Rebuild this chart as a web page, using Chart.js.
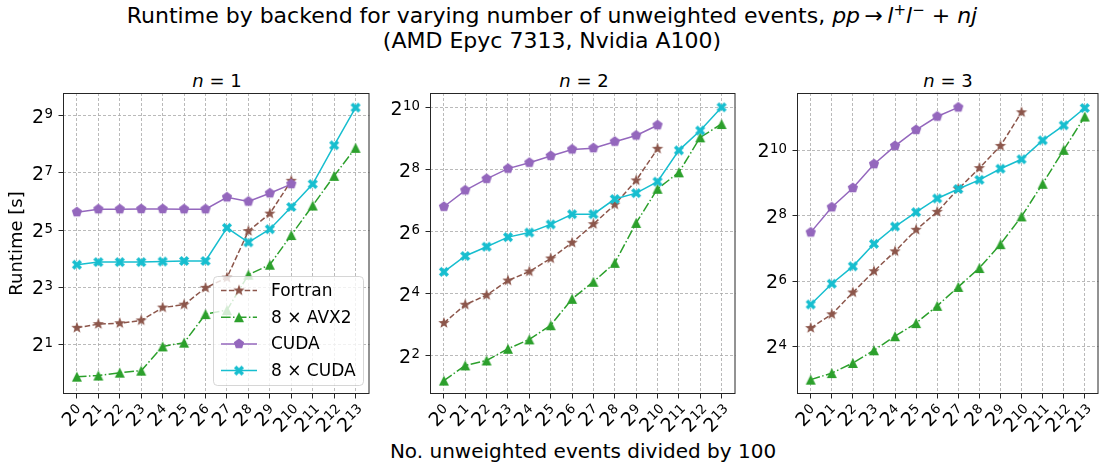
<!DOCTYPE html>
<html>
<head>
<meta charset="utf-8">
<script src="https://cdn.jsdelivr.net/npm/chart.js@4.4.0/dist/chart.umd.min.js"></script>
<style>
body { margin: 0; background: #fff; font-family: 'DejaVu Sans'; }
#wrap { position: relative; width: 1105px; height: 468px; overflow: hidden; }
canvas { position: absolute; top: 80px; }
.txt { position: absolute; white-space: nowrap; color: #000; line-height: 1; transform: translateX(-50%); }
</style>
</head>
<body>
<div id="wrap">
  <div class="txt" style="left:552px; top:3px; font-size:22px;">Runtime by backend for varying number of unweighted events, <i>pp</i>&thinsp;&rarr;&thinsp;<i>l</i><sup style="font-size:15px">+</sup><i>l</i><sup style="font-size:15px">&minus;</sup> + <i>nj</i></div>
  <div class="txt" style="left:552px; top:30px; font-size:22px;">(AMD Epyc 7313, Nvidia A100)</div>
  <div class="txt" style="left:217px; top:72px; font-size:18px;"><i>n</i> = 1</div>
  <div class="txt" style="left:584px; top:72px; font-size:18px;"><i>n</i> = 2</div>
  <div class="txt" style="left:948px; top:72px; font-size:18px;"><i>n</i> = 3</div>
  <div class="txt" style="left:583px; top:441px; font-size:20px;">No. unweighted events divided by 100</div>
  <canvas id="chart-n1" width="376" height="360" style="left:0px"></canvas>
  <canvas id="chart-n2" width="366" height="360" style="left:376px"></canvas>
  <canvas id="chart-n3" width="363" height="360" style="left:742px"></canvas>
</div>
<script>
// exponents of the x tick labels (events / 100 = 2^k)
const xExponents = ['0', '1', '2', '3', '4', '5', '6', '7', '8', '9', '10', '11', '12', '13'];

// runtimes in seconds, n = 1
const n1Fortran = [2.99, 3.27, 3.34, 3.58, 4.89, 5.24, 7.89, 10.1, 31.3, 47.8, 106];
const n1Avx2 = [0.914, 0.939, 1.007, 1.057, 1.905, 2.085, 4.17, 4.59, 10.85, 13.83, 28.4, 58.1, 119.4, 235.6];
const n1Cuda = [49.5, 53.1, 53.1, 53.4, 53.4, 53.1, 53.1, 71.0, 64.0, 78.2, 97.7];
const n1Cuda8 = [13.83, 14.72, 14.72, 14.72, 14.93, 15.14, 15.14, 33.8, 23.8, 32.7, 56.1, 97.7, 250.8, 626];

// n = 2
const n2Fortran = [8.34, 12.55, 15.56, 21.56, 26.35, 35.3, 50.2, 76.1, 117.8, 202.3, 410.1];
const n2Avx2 = [2.30, 3.23, 3.61, 4.69, 5.78, 7.94, 14.32, 20.97, 32.0, 78.2, 167.7, 242.2, 530, 714];
const n2Cuda = [112.2, 162, 209.4, 263.2, 300.3, 349.7, 404.5, 415.9, 481, 552.6, 694.6];
const n2Cuda8 = [26.2, 37.3, 45.9, 56.9, 63.1, 75.6, 95.0, 95.0, 133.4, 152.2, 196.7, 396.1, 617.4, 1038];

// n = 3
const n3Fortran = [23.6, 31.6, 50.2, 78.8, 120.3, 190, 278.2, 451.9, 704.2, 1128, 2304];
const n3Avx2 = [7.89, 9.06, 11.24, 14.72, 19.84, 26.2, 37.8, 56.5, 84.4, 140, 252.5, 505, 1038, 2105];
const n3Cuda = [179.8, 306.6, 461.4, 765.4, 1128, 1585, 2105, 2556];
const n3Cuda8 = [38.9, 60.5, 87.4, 141, 203.7, 276.3, 369.6, 451.9, 548.7, 694.6, 849.3, 1269, 1746, 2521];

// y tick values per panel (powers of two)
const n1YTicks = [2, 8, 32, 128, 512];
const n2YTicks = [4, 16, 64, 256, 1024];
const n3YTicks = [16, 64, 256, 1024];

function makeMarker(kind, color) {
    const s = 16;
    const c = document.createElement('canvas');
    c.width = s; c.height = s;
    const g = c.getContext('2d');
    const m = s / 2;
    g.fillStyle = color;
    g.strokeStyle = color;
    g.beginPath();
    if (kind === 'star') {
        for (let k = 0; k < 10; k++) {
            const a = -Math.PI / 2 + k * Math.PI / 5;
            const r = k % 2 ? 2.5 : 6;
            g.lineTo(m + r * Math.cos(a), m + r * Math.sin(a));
        }
        g.closePath();
        g.fill();
    } else if (kind === 'tri') {
        g.moveTo(m, m - 5);
        g.lineTo(m + 5, m + 5);
        g.lineTo(m - 5, m + 5);
        g.closePath();
        g.fill();
    } else if (kind === 'pent') {
        for (let k = 0; k < 5; k++) {
            const a = -Math.PI / 2 + k * 2 * Math.PI / 5;
            g.lineTo(m + 5.4 * Math.cos(a), m + 5.4 * Math.sin(a));
        }
        g.closePath();
        g.fill();
    } else {
        g.lineWidth = 3.6;
        g.moveTo(m - 3.8, m - 3.8); g.lineTo(m + 3.8, m + 3.8);
        g.moveTo(m + 3.8, m - 3.8); g.lineTo(m - 3.8, m + 3.8);
        g.stroke();
    }
    return c;
}

const series = [
    { label: 'Fortran', color: '#8c564b', dash: [5.5, 2.4], marker: 'star' },
    { label: '8 × AVX2', color: '#2ca02c', dash: [9.6, 2.4, 1.5, 2.4], marker: 'tri' },
    { label: 'CUDA', color: '#9467bd', dash: [], marker: 'pent' },
    { label: '8 × CUDA', color: '#17becf', dash: [], marker: 'x' }
];
series.forEach(s => { s.img = makeMarker(s.marker, s.color); });

// draws "2" with a raised exponent, centred on (cx, cy), rotated by angle
function drawPow(ctx, exp, cx, cy, angle) {
    ctx.save();
    ctx.font = '19px "DejaVu Sans"';
    const wb = ctx.measureText('2').width;
    ctx.font = '13.3px "DejaVu Sans"';
    const we = ctx.measureText(exp).width;
    const w = wb + 0.5 + we;
    ctx.translate(cx, cy);
    ctx.rotate(angle);
    ctx.textAlign = 'left';
    ctx.textBaseline = 'alphabetic';
    ctx.fillStyle = '#000';
    ctx.font = '19px "DejaVu Sans"';
    ctx.fillText('2', -w / 2, 7);
    ctx.font = '13.3px "DejaVu Sans"';
    ctx.fillText(exp, -w / 2 + wb + 0.5, 2.5);
    ctx.restore();
    return w;
}

function powWidth(ctx, exp) {
    ctx.save();
    ctx.font = '19px "DejaVu Sans"';
    const wb = ctx.measureText('2').width;
    ctx.font = '13.3px "DejaVu Sans"';
    const we = ctx.measureText(exp).width;
    ctx.restore();
    return wb + 0.5 + we;
}

const powTicksPlugin = {
    id: 'powTicks',
    afterDraw(chart) {
        const ctx = chart.ctx;
        const xs = chart.scales.x;
        const ys = chart.scales.y;
        ys.ticks.forEach(t => {
            const exp = String(Math.round(Math.log2(t.value)));
            const w = powWidth(ctx, exp);
            drawPow(ctx, exp, ys.right - 10 - w / 2, ys.getPixelForValue(t.value), 0);
        });
        xs.ticks.forEach(t => {
            const exp = xExponents[t.value];
            const w = powWidth(ctx, exp);
            drawPow(ctx, exp, xs.getPixelForValue(t.value) - 5, xs.top + 21 + 0.35 * (w - 21), -Math.PI / 4);
        });
    }
};

const framePlugin = {
    id: 'frame',
    afterDraw(chart) {
        const a = chart.chartArea;
        const ctx = chart.ctx;
        ctx.save();
        ctx.strokeStyle = '#262626';
        ctx.lineWidth = 1;
        ctx.strokeRect(a.left + 0.5, a.top + 0.5, a.right - a.left - 1, a.bottom - a.top - 1);
        ctx.restore();
    }
};

// legend box inside the n = 1 panel, lower right
const legendPlugin = {
    id: 'insideLegend',
    afterDraw(chart) {
        const ctx = chart.ctx;
        const x = 213, y = 196, w = 150, h = 109;
        ctx.save();
        ctx.beginPath();
        ctx.roundRect(x + 0.5, y + 0.5, w, h, 4);
        ctx.fillStyle = 'rgba(255,255,255,0.8)';
        ctx.fill();
        ctx.strokeStyle = 'rgba(204,204,204,0.8)';
        ctx.lineWidth = 1;
        ctx.stroke();
        ctx.font = '17px "DejaVu Sans"';
        ctx.textBaseline = 'middle';
        series.forEach((s, i) => {
            const ly = y + 14.5 + i * 26.7;
            ctx.beginPath();
            ctx.setLineDash(s.dash);
            ctx.strokeStyle = s.color;
            ctx.lineWidth = 1.5;
            ctx.moveTo(221, ly);
            ctx.lineTo(257, ly);
            ctx.stroke();
            ctx.setLineDash([]);
            ctx.drawImage(s.img, 239 - 8, ly - 8);
            ctx.fillStyle = '#000';
            ctx.fillText(s.label, 271, ly + 1);
        });
        ctx.restore();
    }
};

function makeChart(id, values, yMin, yMax, yTicks, yWidth, padRight, showLegend) {
    const ctx = document.getElementById(id).getContext('2d');
    const datasets = values.map((vals, i) => ({
        label: series[i].label,
        data: vals.map((v, j) => ({ x: j, y: v })),
        borderColor: series[i].color,
        backgroundColor: series[i].color,
        borderWidth: 1.5,
        borderDash: series[i].dash,
        pointStyle: series[i].img,
        pointRadius: 5,
        tension: 0,
        order: 4 - i
    }));
    const plugins = [powTicksPlugin, framePlugin];
    if (showLegend) plugins.push(legendPlugin);
    return new Chart(ctx, {
        type: 'line',
        data: { datasets: datasets },
        options: {
            responsive: false,
            animation: false,
            layout: { padding: { top: 13, right: padRight, left: 0, bottom: 0 } },
            plugins: { legend: { display: false }, tooltip: { enabled: false } },
            scales: {
                x: {
                    type: 'linear',
                    min: -0.65,
                    max: 13.65,
                    afterBuildTicks: scale => { scale.ticks = xExponents.map((e, i) => ({ value: i })); },
                    afterFit: scale => { scale.height = 46; },
                    ticks: { autoSkip: false, maxRotation: 0, callback: () => '' },
                    grid: { color: '#a8a8a8', lineWidth: 0.8, tickLength: 4.5, tickColor: '#262626', tickWidth: 1 },
                    border: { display: false, dash: [3, 2] }
                },
                y: {
                    type: 'logarithmic',
                    min: yMin,
                    max: yMax,
                    afterBuildTicks: scale => { scale.ticks = yTicks.map(v => ({ value: v })); },
                    afterFit: scale => { scale.width = yWidth; },
                    ticks: { callback: () => '' },
                    grid: { color: '#a8a8a8', lineWidth: 0.8, tickLength: 4.5, tickColor: '#262626', tickWidth: 1 },
                    border: { display: false, dash: [3, 2] },
                    title: { display: showLegend, text: 'Runtime [s]', color: '#000', font: { size: 18 }, padding: { top: 7, bottom: 0 } }
                }
            }
        },
        plugins: plugins
    });
}

Chart.defaults.font.family = '"DejaVu Sans"';

makeChart('chart-n1', [n1Fortran, n1Avx2, n1Cuda, n1Cuda8], Math.pow(2, -0.63), Math.pow(2, 9.8), n1YTicks, 63, 5, true);
makeChart('chart-n2', [n2Fortran, n2Avx2, n2Cuda, n2Cuda8], Math.pow(2, 0.77), Math.pow(2, 10.48), n2YTicks, 54, 4, false);
makeChart('chart-n3', [n3Fortran, n3Avx2, n3Cuda, n3Cuda8], Math.pow(2, 2.54), Math.pow(2, 11.76), n3YTicks, 55, 5, false);
</script>
</body>
</html>
